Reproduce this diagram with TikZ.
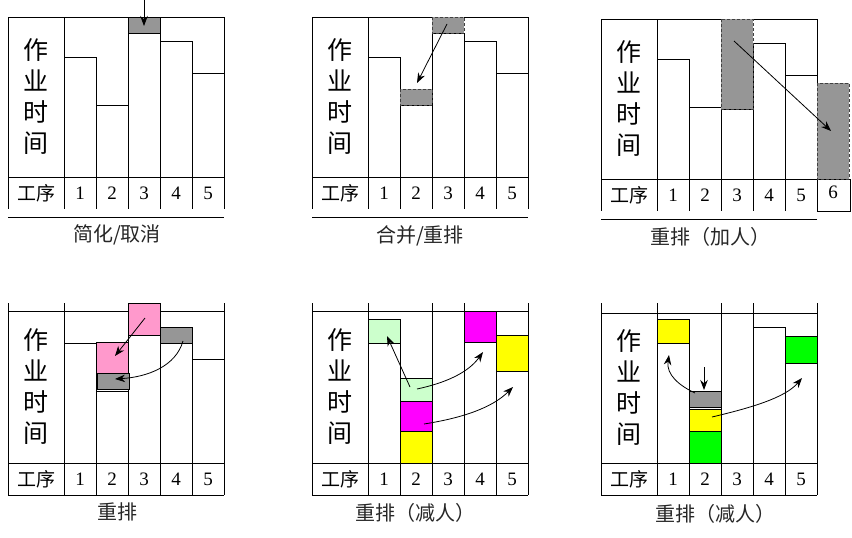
\documentclass[tikz,border=0pt]{standalone}
\usepackage{fontspec}
\setmainfont{Liberation Serif}
\newfontfamily\cjk{Noto Sans CJK SC}
\usetikzlibrary{arrows.meta}
\definecolor{blkgray}{RGB}{150,150,150}
\definecolor{pinkc}{RGB}{255,153,204}
\definecolor{lgreen}{RGB}{204,255,204}
\definecolor{magc}{RGB}{255,0,255}
\definecolor{yelc}{RGB}{255,255,0}
\definecolor{grnc}{RGB}{0,255,0}
\tikzset{
 ln/.style={line width=1pt, draw=black},
 blk/.style={ln, fill=blkgray},
 dblk/.style={draw=black!75, line width=1pt, dash pattern=on 3pt off 2pt, fill=blkgray},
 arr/.style={-{Stealth[length=10pt,width=7.5pt]}, line width=0.8pt},
 vlab/.style={font=\cjk\fontsize{25}{31}\selectfont, align=center, inner sep=0pt},
 tlab/.style={font=\cjk\fontsize{19}{20}\selectfont, inner sep=0pt},
 numlab/.style={font=\fontsize{19}{20}\selectfont, inner sep=0pt},
 captext/.style={font=\cjk\fontsize{20}{22}\selectfont, inner sep=0pt, text=black!85},
}
% frame: x0, top, chart bottom, table bottom, name prefix
\newcommand\panelframe[5]{%
 \draw[ln] (#1,#2) rectangle ({#1+216},#3);
 \draw[ln] ({#1+56},#2) -- ({#1+56},#3);
 \foreach \k in {0,56,88,120,152,184,216}{\draw[ln] ({#1+\k},#3) -- ({#1+\k},#4);}
 \node[vlab] (#5v) at ({#1+28},{(#2+#3)/2}) {作\\业\\时\\间};
 \node[tlab] (#5g) at ({#1+28},{(#3+#4)/2}) {工序};
 \foreach \k in {1,...,5}{\node[numlab] (#5n\k) at ({#1+40+32*\k},{(#3+#4)/2}) {\k};}
}
% bar: x0, column, top, bottom, style
\newcommand\panelbar[5]{\draw[#5] ({#1+56+32*(#2-1)},#3) rectangle ({#1+88+32*(#2-1)},#4);}
\begin{document}
\begin{tikzpicture}[x=1pt,y=-1pt]
\useasboundingbox (0,0) rectangle (852,538);

% ---------- Panel 1 ----------
\panelbar{8}{1}{57}{177}{ln}
\panelbar{8}{2}{105}{177}{ln}
\panelbar{8}{3}{33}{177}{ln}
\panelbar{8}{4}{41}{177}{ln}
\panelbar{8}{5}{73}{177}{ln}
\panelframe{8}{17}{177}{209}{a}
\panelbar{8}{3}{17}{33}{blk}
\draw[ln] (8,217) -- (224,217);
\node[captext] (capA) at (117,235) {简化/取消};
\coordinate (a1) at (144,0);
\coordinate (a2) at (144,26);
\draw[arr] (a1) -- (a2);

% ---------- Panel 2 ----------
\panelbar{312}{1}{57}{177}{ln}
\panelbar{312}{2}{105}{177}{ln}
\panelbar{312}{3}{33}{177}{ln}
\panelbar{312}{4}{41}{177}{ln}
\panelbar{312}{5}{73}{177}{ln}
\panelframe{312}{17}{177}{209}{b}
\panelbar{312}{3}{17}{33}{dblk}
\panelbar{312}{2}{89}{105}{dblk}
\draw[ln] (312,217) -- (528,217);
\node[captext] (capB) at (420,236) {合并/重排};
\coordinate (b1) at (447,24);
\coordinate (b2) at (417,83);
\draw[arr] (b1) -- (b2);

% ---------- Panel 3 ----------
\panelbar{601}{1}{59}{179}{ln}
\panelbar{601}{2}{107}{179}{ln}
\panelbar{601}{3}{109}{179}{ln}
\panelbar{601}{4}{43}{179}{ln}
\panelbar{601}{5}{75}{179}{ln}
\panelframe{601}{19}{179}{211}{c}
\panelbar{601}{3}{19}{109}{dblk}
\draw[ln] (817,179) rectangle (850,211);
\node[numlab] (cn6) at (833,192) {6};
\draw[dblk] (817,83) rectangle (849,179);
\draw[ln] (601,219) -- (817,219);
\node[captext] (capC) at (710,237) {重排（加人）};
\coordinate (c1) at (734,41);
\coordinate (c2) at (831,131);
\draw[arr] (c1) -- (c2);

% ---------- Panel 4 ----------
\panelbar{8}{1}{343}{463}{ln}
\panelbar{8}{2}{391}{463}{ln}
\panelbar{8}{3}{335}{463}{ln}
\panelbar{8}{4}{343}{463}{ln}
\panelbar{8}{5}{359}{463}{ln}
\panelframe{8}{311}{463}{495}{d}
\draw[ln] (8,495) -- (224,495);
\foreach \xx in {8,64,224}{\draw[ln] (\xx,303) -- (\xx,311);}
\panelbar{8}{3}{303}{335}{ln, fill=pinkc}
\panelbar{8}{4}{327}{343}{blk}
\panelbar{8}{2}{342}{373}{ln, fill=pinkc}
\draw[ln, fill=blkgray] (97,373) rectangle (129,389);
\draw[line width=1.6pt] (97,373) -- (97,389);
\node[captext] (capD) at (117,512) {重排};
\coordinate (d1) at (145,318);
\coordinate (d2) at (115,356);
\coordinate (d3) at (183,341);
\coordinate (d4) at (115,379);
\draw[arr] (d1) -- (d2);
\draw[arr] (d3) .. controls (176,366) and (148,377) .. (d4);

% ---------- Panel 5 ----------
\panelbar{312}{1}{343}{463}{ln}
\panelbar{312}{4}{342}{463}{ln}
\panelbar{312}{5}{371}{463}{ln}
\panelframe{312}{311}{463}{495}{e}
\draw[ln] (312,495) -- (528,495);
\foreach \xx in {312,368,528}{\draw[ln] (\xx,303) -- (\xx,311);}
\foreach \xx in {432,464}{\draw[ln] (\xx,303) -- (\xx,463);}
\panelbar{312}{1}{319}{343}{ln, fill=lgreen}
\panelbar{312}{2}{378}{401}{ln, fill=lgreen}
\panelbar{312}{2}{401}{431}{ln, fill=magc}
\panelbar{312}{2}{431}{463}{ln, fill=yelc}
\panelbar{312}{4}{311}{342}{ln, fill=magc}
\panelbar{312}{5}{335}{371}{ln, fill=yelc}
\node[captext] (capE) at (415,513) {重排（减人）};
\coordinate (e1) at (410,387);
\coordinate (e2) at (387,336);
\coordinate (e3) at (417,389);
\coordinate (e4) at (483,352);
\coordinate (e5) at (424,424);
\coordinate (e6) at (513,387);
\draw[arr] (e1) -- (e2);
\draw[arr] (e3) .. controls (445,383) and (468,373) .. (e4);
\draw[arr] (e5) .. controls (462,418) and (492,408) .. (e6);

% ---------- Panel 6 ----------
\panelbar{601}{1}{343}{463}{ln}
\panelbar{601}{4}{327}{463}{ln}
\panelbar{601}{5}{363}{463}{ln}
\panelframe{601}{313}{463}{495}{f}
\draw[ln] (601,495) -- (817,495);
\foreach \xx in {601,657,817}{\draw[ln] (\xx,303) -- (\xx,313);}
\foreach \xx in {721,753}{\draw[ln] (\xx,303) -- (\xx,463);}
\panelbar{601}{1}{319}{343}{ln, fill=yelc}
\panelbar{601}{2}{391}{407}{blk}
\panelbar{601}{2}{409}{431}{ln, fill=yelc}
\panelbar{601}{2}{431}{463}{ln, fill=grnc}
\panelbar{601}{5}{336}{363}{ln, fill=grnc}
\node[captext] (capF) at (715,514) {重排（减人）};
\coordinate (f1) at (704,367);
\coordinate (f2) at (704,390);
\coordinate (f3) at (695,393);
\coordinate (f4) at (669,355);
\coordinate (f5) at (712,417);
\coordinate (f6) at (802,378);
\draw[arr] (f1) -- (f2);
\draw[arr] (f3) .. controls (680,386) and (666,375) .. (f4);
\draw[arr] (f5) .. controls (750,408) and (785,398) .. (f6);
\end{tikzpicture}
\end{document}
